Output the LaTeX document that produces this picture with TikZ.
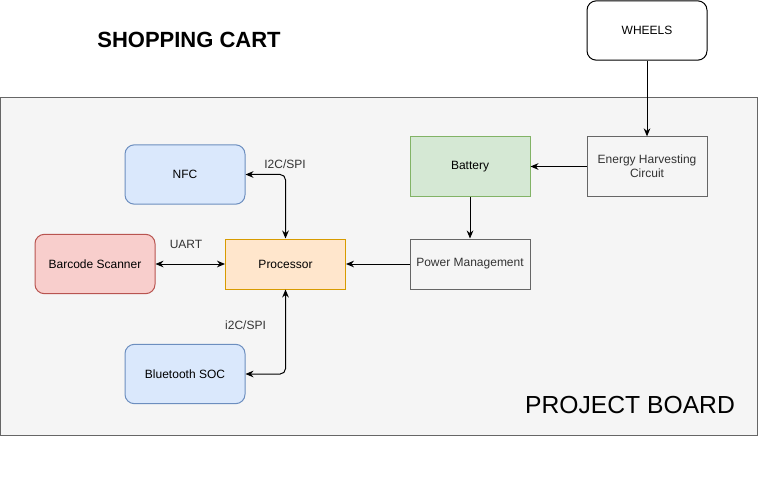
\documentclass[tikz,border=0pt]{standalone}
\usepackage{fontspec}
\setmainfont{Liberation Sans}
\usepackage{xcolor}
\usetikzlibrary{arrows.meta}

\definecolor{boardfill}{HTML}{F5F5F5}
\definecolor{boardline}{HTML}{666666}
\definecolor{greytext}{HTML}{333333}
\definecolor{bluefill}{HTML}{DAE8FC}
\definecolor{blueline}{HTML}{6C8EBF}
\definecolor{redfill}{HTML}{F8CECC}
\definecolor{redline}{HTML}{B85450}
\definecolor{greenfill}{HTML}{D5E8D4}
\definecolor{greenline}{HTML}{82B366}
\definecolor{orangefill}{HTML}{FFE6CC}
\definecolor{orangeline}{HTML}{D79B00}

\begin{document}
\begin{tikzpicture}[x=0.75pt, y=-0.75pt,
    box/.style={draw, line width=0.75pt, minimum width=90pt, minimum height=44.5pt, inner sep=0pt, font=\fontsize{9}{10.5}\selectfont, align=center},
    rbox/.style={box, rounded corners=7pt},
    greybox/.style={box, fill=boardfill, draw=boardline, text=greytext},
    lbl/.style={font=\fontsize{9}{10.5}\selectfont, text=greytext},
    arr/.style={-{Stealth[length=6pt, width=5pt]}, line width=0.75pt},
    darr/.style={{Stealth[length=6pt, width=5pt]}-{Stealth[length=6pt, width=5pt]}, line width=0.75pt, rounded corners=4pt}
]
    \useasboundingbox (0,0) rectangle (762,488);

    % Project board
    \draw[fill=boardfill, draw=boardline, line width=0.75pt] (0.5,97.5) rectangle (757,435);
    \node[font=\fontsize{18.5}{21}\selectfont] (boardname) at (630,405) {PROJECT BOARD};

    % Title
    \node[font=\fontsize{16.5}{19}\selectfont\bfseries] (title) at (189,40) {SHOPPING CART};

    % Outside the board
    \node[rbox, fill=white, draw=black] (wheels) at (647,30.5) {WHEELS};

    % Power path
    \node[greybox] (harvest) at (647,166.5) {Energy Harvesting\\Circuit};
    \node[box, fill=greenfill, draw=greenline] (battery) at (470,166.5) {Battery};
    \node[greybox, minimum height=37.5pt] (power) at (470,264) {Power Management};

    % Processor and peripherals
    \node[box, fill=orangefill, draw=orangeline, minimum height=37.5pt] (proc) at (285.5,264) {Processor};
    \node[rbox, fill=bluefill, draw=blueline] (nfc) at (185,174.5) {NFC};
    \node[rbox, fill=redfill, draw=redline] (barcode) at (95,264) {Barcode Scanner};
    \node[rbox, fill=bluefill, draw=blueline] (ble) at (185,374) {Bluetooth SOC};

    \draw[arr] (wheels) -- (harvest);
    \draw[arr] (harvest) -- (battery);
    \draw[arr] (battery) -- (power);
    \draw[arr] (power) -- (proc);

    \draw[darr] (barcode) -- (proc);
    \draw[darr] (nfc.east) -| (proc.north);
    \draw[darr] (ble.east) -| (proc.south);

    % Bus labels
    \node[lbl] (uart) at (186,244) {UART};
    \node[lbl] (nfcbus) at (285,164) {I2C/SPI};
    \node[lbl] (blebus) at (245.5,325) {i2C/SPI};
\end{tikzpicture}
\end{document}
